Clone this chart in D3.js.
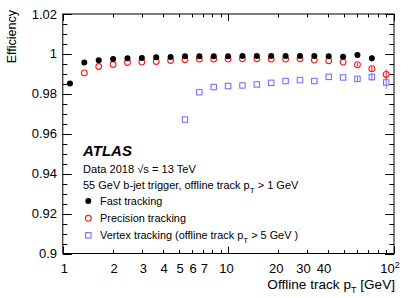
<!DOCTYPE html>
<html><head><meta charset="utf-8">
<script src="https://cdn.jsdelivr.net/npm/d3@7"></script>
<style>
body{margin:0;background:#fff;}
text{font-family:"Liberation Sans",Arial,Helvetica,sans-serif;}
</style></head><body>
<svg id="c" width="415" height="298"></svg>
<script>
// bin centres (offline track pT, GeV)
const ptBins = [1.105,1.349,1.648,2.013,2.458,3.002,3.666,4.477,5.467,6.677,8.154,9.957,12.16,14.85,18.13,22.15,27.05,33.03,40.34,49.26,60.16,73.47,89.72];
const fastEff = [0.9852,0.9957,0.9968,0.9974,0.9978,0.9979,0.9983,0.9984,0.9988,0.9988,0.9988,0.9988,0.9989,0.9990,0.9990,0.9989,0.9989,0.9989,0.9988,0.9986,0.9994,0.9978];
const fastErr = [0,0,0,0,0,0,0,0,0,0,0,0,0,0,0,0,0,0,0,0,0.0006,0.0015];
const precEff = [null,0.9905,0.9937,0.9947,0.9957,0.9959,0.9962,0.9967,0.9971,0.9974,0.9974,0.9974,0.9976,0.9976,0.9974,0.9974,0.9976,0.9969,0.9966,0.9959,0.9946,0.9926,0.9897];
const precErr = [0,0,0,0,0,0,0,0,0,0,0,0,0,0,0,0,0,0,0,0,0.0008,0.0012,0.0025];
const vtxEff = [null,null,null,null,null,null,null,null,0.9671,0.9808,0.9834,0.9839,0.9842,0.9847,0.9855,0.9864,0.9869,0.9864,0.9885,0.9882,0.9875,0.9884,0.9857];
const vtxErr = [0,0,0,0,0,0,0,0,0,0,0,0,0,0,0,0,0,0,0,0,0.0010,0.0019,0.0031];
const yTicks = [0.9,0.92,0.94,0.96,0.98,1,1.02];
const yTickLabels = ["0.9","0.92","0.94","0.96","0.98","1","1.02"];
const xLabelTicks = [1,2,3,4,5,6,7,10,20,30,40];
const legendLabels = ["Fast tracking","Precision tracking","Vertex tracking (offline track p_T > 5 GeV )"];

const L=62.8,R=394,T=14,B=253.5;
const svg=d3.select("#c");
const x=d3.scaleLog().domain([1,100]).range([L,R]);
const y=d3.scaleLinear().domain([0.9,1.02]).range([B,T]);
const blue="#7373ff", red="#ff1a1a";

// frame
svg.append("rect").attr("x",L).attr("y",T).attr("width",R-L).attr("height",B-T)
  .attr("fill","none").attr("stroke","#000").attr("stroke-width",1);

const tk=svg.append("g").attr("stroke","#000").attr("stroke-width",1);
// y ticks
const yMinor=d3.range(0,25).map(i=>0.9+i*0.005);
yMinor.forEach((v,i)=>{
  const major = i%4===0;
  const len = major?9:4.5;
  const yy=Math.round(y(v))+0.5;
  tk.append("line").attr("x1",L).attr("x2",L+len).attr("y1",yy).attr("y2",yy);
  tk.append("line").attr("x1",R).attr("x2",R-len).attr("y1",yy).attr("y2",yy);
});
// x ticks (log)
const xt=[];
for(let d=1;d<=10;d*=10) for(let k=1;k<=9;k++) xt.push(k*d);
xt.push(100);
xt.forEach(v=>{
  const major=(v===1||v===10||v===100);
  const len=major?7:3.5;
  const xx=Math.round(x(v))+0.5;
  tk.append("line").attr("x1",xx).attr("x2",xx).attr("y1",B).attr("y2",B-len);
  tk.append("line").attr("x1",xx).attr("x2",xx).attr("y1",T).attr("y2",T+len);
});

// y tick labels
svg.append("g").selectAll("text").data(yTicks).join("text")
  .attr("x",57).attr("y",d=>y(d)+4.5).attr("text-anchor","end")
  .attr("font-size",13).text((d,i)=>yTickLabels[i]);
// x tick labels
svg.append("g").selectAll("text").data(xLabelTicks).join("text")
  .attr("x",d=>x(d)+(d<10?1.5:(d<30?-2:-4))).attr("y",273).attr("text-anchor","middle")
  .attr("font-size",13).text(d=>d);
const t100=svg.append("text").attr("x",x(100)-4).attr("y",273).attr("text-anchor","middle").attr("font-size",13);
t100.append("tspan").text("10");
t100.append("tspan").attr("dy",-5).attr("font-size",9).text("2");

// axis titles
const xt2=svg.append("text").attr("x",R+1).attr("y",289).attr("text-anchor","end").attr("font-size",13.6);
xt2.append("tspan").text("Offline track p");
xt2.append("tspan").attr("dy",4).attr("font-size",9).text("T");
xt2.append("tspan").attr("dy",-4).text(" [GeV]");
svg.append("text").attr("transform",`translate(15.5,${T-4}) rotate(-90)`).attr("text-anchor","end")
  .attr("font-size",12.5).text("Efficiency");

// data
const g=svg.append("g");
function errBars(vals,errs,col){
  g.append("g").selectAll("line").data(ptBins.map((p,i)=>({p,v:vals[i],e:errs[i]})).filter(d=>d.v!=null&&d.e>0))
    .join("line").attr("x1",d=>x(d.p)).attr("x2",d=>x(d.p))
    .attr("y1",d=>y(d.v-d.e)).attr("y2",d=>y(d.v+d.e)).attr("stroke",col).attr("stroke-width",1);
}
errBars(vtxEff,vtxErr,blue);
errBars(precEff,precErr,red);
errBars(fastEff,fastErr,"#000");
const vd=ptBins.map((p,i)=>({p,v:vtxEff[i]})).filter(d=>d.v!=null);
g.append("g").selectAll("rect").data(vd).join("rect")
  .attr("x",d=>x(d.p)-2.7).attr("y",d=>y(d.v)-2.7).attr("width",5.4).attr("height",5.4)
  .attr("fill","none").attr("stroke",blue).attr("stroke-width",1.1);
const pd=ptBins.map((p,i)=>({p,v:precEff[i]})).filter(d=>d.v!=null);
g.append("g").selectAll("circle").data(pd).join("circle")
  .attr("cx",d=>x(d.p)).attr("cy",d=>y(d.v)).attr("r",2.9)
  .attr("fill","none").attr("stroke",red).attr("stroke-width",1.1);
const fd=ptBins.map((p,i)=>({p,v:fastEff[i]})).filter(d=>d.v!=null);
g.append("g").selectAll("circle").data(fd).join("circle")
  .attr("cx",d=>x(d.p)).attr("cy",d=>y(d.v)).attr("r",3)
  .attr("fill","#000");

// labels
svg.append("text").attr("x",83).attr("y",156).attr("font-size",15).attr("font-weight","bold")
  .attr("font-style","italic").text("ATLAS");
svg.append("text").attr("x",83).attr("y",172.5).attr("font-size",11.1).text("Data 2018 \u221As = 13 TeV");
const l2=svg.append("text").attr("x",83).attr("y",188.5).attr("font-size",11);
l2.append("tspan").text("55 GeV b-jet trigger, offline track p");
l2.append("tspan").attr("dy",4).attr("font-size",8).text("T");
l2.append("tspan").attr("dy",-4).text(" > 1 GeV");

// legend
const ly=[201,218.3,235.3], ty=[204.5,221.5,238.5];
svg.append("circle").attr("cx",88.3).attr("cy",ly[0]).attr("r",3).attr("fill","#000");
svg.append("circle").attr("cx",88.3).attr("cy",ly[1]).attr("r",2.9).attr("fill","none").attr("stroke",red).attr("stroke-width",1.1);
svg.append("rect").attr("x",88.3-2.7).attr("y",ly[2]-2.7).attr("width",5.4).attr("height",5.4).attr("fill","none").attr("stroke",blue).attr("stroke-width",1.1);
legendLabels.forEach((s,i)=>{
  const t=svg.append("text").attr("x",100).attr("y",ty[i]).attr("font-size",10.9);
  const parts=s.split("p_T");
  t.append("tspan").text(parts[0]);
  if(parts.length>1){
    t.append("tspan").text("p");
    t.append("tspan").attr("dy",4).attr("font-size",8).text("T");
    t.append("tspan").attr("dy",-4).text(parts[1]);
  }
});
</script></body></html>
